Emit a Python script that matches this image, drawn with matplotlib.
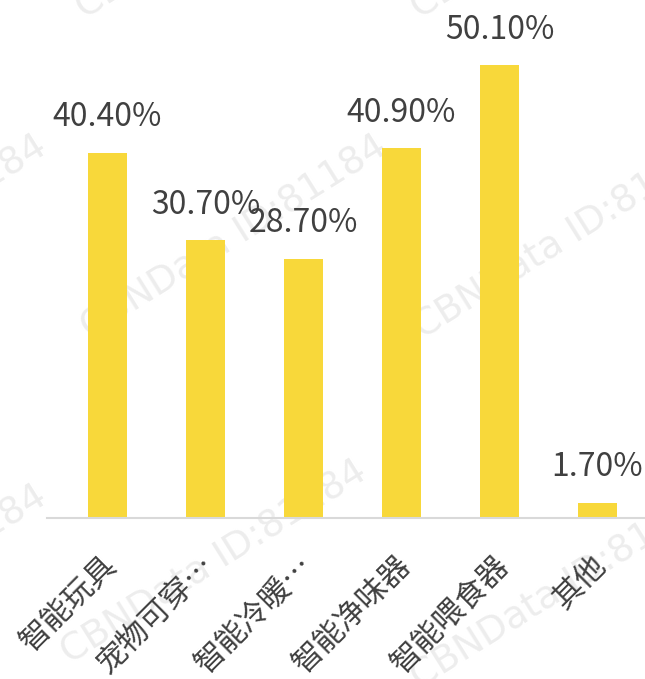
import matplotlib
matplotlib.use('Agg')
import matplotlib.pyplot as plt
from matplotlib.transforms import ScaledTranslation

plt.rcParams['font.family'] = ['Noto Sans CJK SC', 'DejaVu Sans']

# data
categories = ['智能玩具', '宠物可穿…', '智能冷暖…', '智能净味器', '智能喂食器', '其他']
values = [40.4, 30.7, 28.7, 40.9, 50.1, 1.7]
labels = ['40.40%', '30.70%', '28.70%', '40.90%', '50.10%', '1.70%']

W, H = 645, 679
fig = plt.figure(figsize=(W / 100, H / 100), dpi=100)

# watermark
for x0, y0 in [(-250, 340), (90, 340), (423, 340),
               (85, 20), (420, 20),
               (-250, 690), (70, 665), (420, 690)]:
    fig.text(x0 / W, 1 - y0 / H, 'CBNData ID:81184', fontsize=27, color='#ededed',
             rotation=32, rotation_mode='anchor', ha='left', va='baseline',
             family='DejaVu Sans', zorder=-1)

# axes: baseline at y=518px, from x=47 to right edge
ax = fig.add_axes([47 / W, 1 - 518 / H, (W - 47) / W, 518 / H])
ax.patch.set_alpha(0)

x = range(len(categories))
bars = ax.bar(x, values, width=0.4, color='#F8D83A', zorder=2)
ax.set_xlim(-0.617, 5.485)
ax.set_ylim(0, 57.3)

for b, lab in zip(bars, labels):
    ax.annotate(lab, (b.get_x() + b.get_width() / 2, b.get_height()),
                xytext=(0, 14), textcoords='offset points',
                ha='center', va='bottom', fontsize=23, color='#404040')

for s in ['top', 'right', 'left']:
    ax.spines[s].set_visible(False)
ax.spines['bottom'].set_color('#d9d9d9')
ax.spines['bottom'].set_linewidth(1.5)
ax.set_yticks([])
ax.set_xticks(list(x))
ax.set_xticklabels(categories, rotation=45, ha='right', rotation_mode='anchor',
                   fontsize=22, color='#404040')
ax.tick_params(axis='x', length=0, pad=23)
shift = ScaledTranslation(-6 / 100, 0, fig.dpi_scale_trans)
for t in ax.get_xticklabels():
    t.set_transform(t.get_transform() + shift)

fig.savefig('out.png', dpi=100)
